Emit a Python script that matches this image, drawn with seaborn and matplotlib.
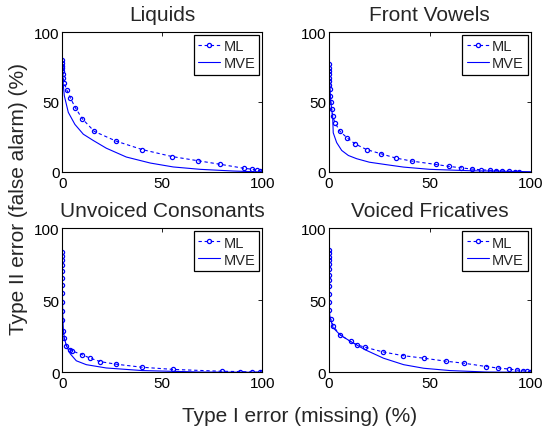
import numpy as np
import pandas as pd
import seaborn as sns
import matplotlib
matplotlib.use("Agg")
import matplotlib.pyplot as plt

titles = ["Liquids", "Front Vowels", "Unvoiced Consonants", "Voiced Fricatives"]
series_names = ["ML", "MVE"]
tick_vals = [0, 50, 100]
tick_labels = ["0", "50", "100"]

# Liquids
liq_ml_x = [0, 0, 0, 0, 0, 0.2, 0.5, 1, 2.2, 4, 6.5, 10, 16, 27, 40, 55, 68, 79, 91, 95, 97.5, 99, 100]
liq_ml_y = [80, 78, 76, 74, 72, 70, 67, 63.5, 58.8, 53, 46, 38, 29, 22, 16, 11, 8, 5.5, 2.6, 2, 1.2, 0.6, 0]
liq_mve_x = [0, 0.2, 0.5, 1, 3, 6.3, 10.5, 15.5, 22, 32, 44, 55.5, 69, 85.5, 100]
liq_mve_y = [79, 70, 62, 54.5, 42.6, 34, 27, 22.5, 17, 10.7, 6.4, 3.6, 1.9, 0.7, 0]

# Front Vowels
fv_ml_x = [0, 0, 0, 0, 0, 0, 0.2, 0.3, 0.5, 0.8, 1.3, 1.8, 3, 5.5, 8.8, 13, 18.7, 25.8, 33, 41,
           53, 59.5, 65.5, 70.7, 75.5, 80, 83, 86, 89.4, 92, 94]
fv_ml_y = [77, 74.5, 72, 69.7, 67.4, 65, 62, 59, 54, 50, 45, 40, 35, 29, 24.6, 20, 16, 13, 10, 7.8,
           5.4, 4, 3, 2.1, 1.6, 1.2, 1, 0.7, 0.5, 0.3, 0.2]
fv_mve_x = [0, 0.3, 0.8, 1.3, 1.8, 2.1, 3.8, 6.3, 9.6, 13.7, 20, 28.6, 37, 50, 70, 100]
fv_mve_y = [77, 65, 52, 45, 40, 28, 21, 15.4, 11.8, 9.5, 7, 5.2, 3.5, 1.9, 0.9, 0.2]

# Unvoiced Consonants
uc_ml_x = [0, 0, 0, 0, 0, 0, 0, 0, 0, 0, 0, 0.2, 0.8, 2, 4, 4.7, 9.7, 14, 19, 27, 40, 55.5,
           80, 89, 95, 99, 100]
uc_ml_y = [83.3, 80.9, 77.9, 74.4, 70.2, 65.8, 60.9, 55.1, 48.8, 42.6, 36, 29, 23.7, 18.6, 15.8,
           15, 12.3, 9.8, 7.4, 5.6, 3.5, 2, 0.7, 0.5, 0.2, 0.05, 0]
uc_mve_x = [0, 0, 0.2, 0.5, 1, 2, 4, 7, 12, 22, 40, 69, 100]
uc_mve_y = [83, 60, 40, 30, 24, 18.6, 12.8, 8, 5.3, 3, 1.2, 0.2, 0]

# Voiced Fricatives
vf_ml_x = [0, 0, 0, 0, 0, 0, 0, 0, 0, 0, 0, 0, 0.8, 2.1, 5.5, 10.7, 14, 17.9, 26.6, 36.5, 47,
           58, 67, 78, 83.6, 89, 93, 96, 98, 99.7, 100]
vf_ml_y = [84.9, 82.6, 80.2, 77.9, 74.9, 71.6, 67.9, 64, 60, 54.7, 48.8, 43, 37, 32, 26, 21.4,
           19, 17.4, 14.2, 11.6, 9.8, 7.7, 6.3, 4, 3, 2.3, 1.6, 1.1, 0.7, 0.2, 0]
vf_mve_x = [0, 0, 0.3, 1, 2, 5.5, 10.7, 18, 27, 37, 47, 60, 78, 100]
vf_mve_y = [85, 50, 40, 36, 31, 26, 21.4, 15.6, 9.8, 5.3, 2.8, 1.2, 0.2, 0]

panels = [
    (liq_ml_x, liq_ml_y, liq_mve_x, liq_mve_y),
    (fv_ml_x, fv_ml_y, fv_mve_x, fv_mve_y),
    (uc_ml_x, uc_ml_y, uc_mve_x, uc_mve_y),
    (vf_ml_x, vf_ml_y, vf_mve_x, vf_mve_y),
]

sns.set_style("white")
plt.rcParams["font.family"] = ["Liberation Sans", "DejaVu Sans"]

W, H = 543, 427
fig = plt.figure(figsize=(W / 100, H / 100), dpi=100)

# axes rectangles in pixels: (left, top, right, bottom)
rects_px = [
    (62.3, 33, 262.3, 173),
    (329, 33, 530.7, 173),
    (62.3, 229.3, 262.3, 373.3),
    (329, 229.3, 530.7, 373.3),
]

blue = "#0000ff"
for (l, t, r, b), title, (mlx, mly, mvx, mvy) in zip(rects_px, titles, panels):
    ax = fig.add_axes([l / W, 1 - b / H, (r - l) / W, (b - t) / H])
    ml_df = pd.DataFrame({"x": mlx, "y": mly})
    mve_df = pd.DataFrame({"x": mvx, "y": mvy})
    sns.lineplot(data=ml_df, x="x", y="y", ax=ax, sort=False, estimator=None,
                 color=blue, linestyle="--", linewidth=0.8, marker="o", markersize=3,
                 markerfacecolor="none", markeredgecolor=blue, markeredgewidth=0.9,
                 label=series_names[0], dashes=False)
    for ln in ax.get_lines():
        ln.set_linestyle((0, (3.0, 2.5)))
    sns.lineplot(data=mve_df, x="x", y="y", ax=ax, sort=False, estimator=None,
                 color=blue, linewidth=0.8, label=series_names[1])
    ax.set_xlim(0, 100)
    ax.set_ylim(0, 100)
    ax.set_xticks(tick_vals)
    ax.set_xticklabels(tick_labels)
    ax.set_yticks(tick_vals)
    ax.set_yticklabels(tick_labels)
    ax.set_xlabel("")
    ax.set_ylabel("")
    ax.tick_params(direction="in", length=3, width=0.6, top=True, right=True,
                   labelsize=11, colors="black")
    ax.tick_params(axis="x", pad=3)
    ax.tick_params(axis="y", pad=2)
    for sp in ax.spines.values():
        sp.set_visible(True)
        sp.set_color("black")
        sp.set_linewidth(0.8)
    ax.set_title(title, fontsize=15, pad=9)
    leg = ax.legend(loc="upper right", fontsize=10.5, frameon=True, fancybox=False,
                    edgecolor="black", framealpha=1, borderaxespad=0.2, borderpad=0.3,
                    handlelength=1.5, handletextpad=0.2, labelspacing=0.2)
    leg.get_frame().set_linewidth(0.9)

fig.text(0.034, 0.535, "Type II error (false alarm) (%)", rotation=90, fontsize=15,
         ha="center", va="center")
fig.text(0.5525, 0.025, "Type I error (missing) (%)", fontsize=15, ha="center", va="center")

fig.savefig("out.png", dpi=100)
